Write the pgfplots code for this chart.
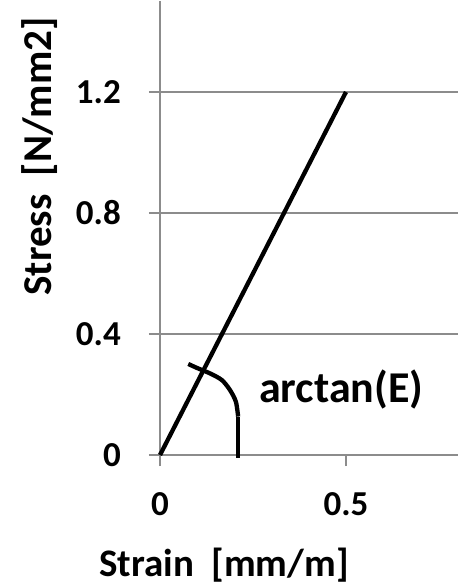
\documentclass[border=0pt]{standalone}
\usepackage{fontspec}
\setmainfont{Carlito}
\usepackage{pgfplots}
\pgfplotsset{compat=1.18}
\begin{document}
\begin{tikzpicture}
\path[use as bounding box] (-160bp,-132bp) rectangle (298bp,455bp);
\begin{axis}[
  scale only axis,
  width=297.6bp, height=453.75bp,
  xmin=0, xmax=0.8, ymin=0, ymax=1.5,
  axis lines=left,
  axis line style={-, draw=gray!90, line width=1.3bp},
  xtick={0,0.5}, ytick={0,0.4,0.8,1.2},
  tick align=outside,
  major tick length=11bp,
  tick style={draw=gray!90, line width=1.3bp},
  ymajorgrids,
  grid style={draw=gray!90, line width=1.3bp},
  /pgf/number format/assume math mode=true,
  ticklabel style={font=\bfseries\fontsize{35bp}{40bp}\selectfont, text=black},
  xticklabel style={anchor=north, inner sep=0pt, yshift=-26bp},
  yticklabel style={anchor=east, inner sep=0pt, xshift=-28bp},
  xlabel={Strain\ \ [mm/m]},
  ylabel={Stress\ \ [N/mm2]},
  xlabel style={font=\bfseries\fontsize{39bp}{44bp}\selectfont, at={(axis cs:0.172,-0.364)}, anchor=center},
  ylabel style={font=\bfseries\fontsize{41bp}{46bp}\selectfont, at={(axis cs:-0.3226,0.987)}, anchor=center},
  clip=false,
]
\addplot[black, line width=4.3bp] coordinates {(0,0) (0.5,1.2)};
\addplot[black, line width=4.3bp, smooth] coordinates {
  (0.076,0.301) (0.099,0.288) (0.134,0.270) (0.166,0.248) (0.188,0.215)
  (0.204,0.176) (0.210,0.127)};
\addplot[black, line width=4.3bp] coordinates {(0.210,0.127) (0.210,-0.01)};
\node[anchor=base west, inner sep=0pt, font=\bfseries\fontsize{44bp}{50bp}\selectfont] at (axis cs:0.266,0.172) {arctan(E)};
\end{axis}
\end{tikzpicture}
\end{document}
